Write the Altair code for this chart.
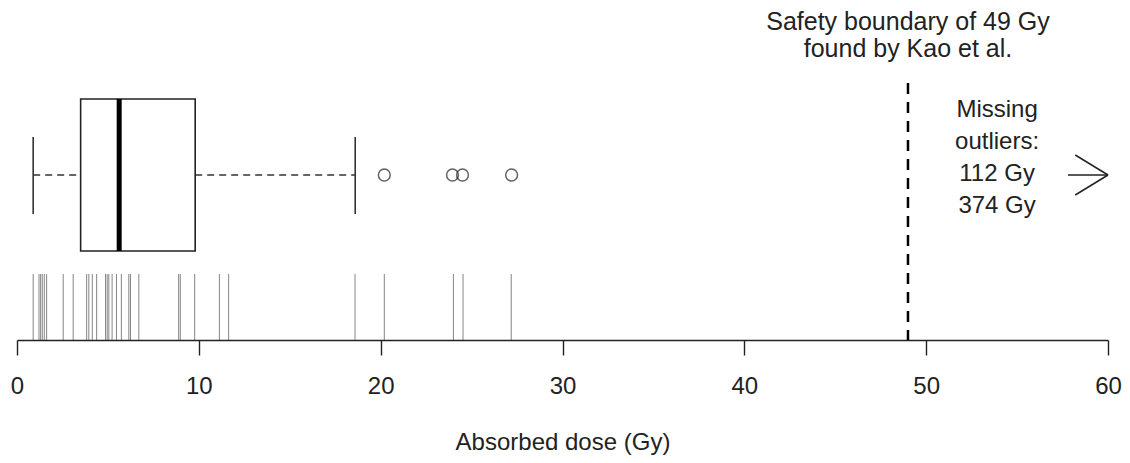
import altair as alt
import pandas as pd

# ---- data ----
doses = [0.89, 1.21, 1.30, 1.39, 1.50, 1.63, 2.54, 3.09, 3.83, 3.95, 4.14, 4.38,
         4.87, 4.96, 5.05, 5.23, 5.47, 5.74, 6.15, 6.24, 6.70, 8.89, 8.98, 9.77,
         11.13, 11.64, 18.59, 20.20, 24.00, 24.53, 27.18]
outliers = [20.20, 23.95, 24.50, 27.20]
box_q1 = 3.50
box_median = 5.62
box_q3 = 9.80
whisker_low = 0.89
whisker_high = 18.60
boundary_gy = 49
boundary_text = ["Safety boundary of 49 Gy", "found by Kao et al."]
missing_text = ["Missing", "outliers:", "112 Gy", "374 Gy"]
x_ticks = [0, 10, 20, 30, 40, 50, 60]

FONT = "Liberation Sans"
XTITLE = "Absorbed dose (Gy)"
xscale = alt.Scale(domain=[0, 60], nice=False, zero=False)


def X(field, **kw):
    return alt.X(field, type="quantitative", scale=xscale,
                 axis=alt.Axis(title=XTITLE, values=x_ticks), **kw)


rug_df = pd.DataFrame({"dose": doses})
box_df = pd.DataFrame({"q1": [box_q1], "q3": [box_q3], "med": [box_median],
                       "lo": [whisker_low], "hi": [whisker_high]})
out_df = pd.DataFrame({"dose": outliers})
whisk_df = pd.DataFrame({"a": [whisker_low, box_q3], "b": [box_q1, whisker_high]})
cap_df = pd.DataFrame({"v": [whisker_low, whisker_high]})
bnd_df = pd.DataFrame({"v": [boundary_gy]})
btxt_df = pd.DataFrame({"t": boundary_text, "v": [boundary_gy] * 2,
                        "yp": [14 + 27 * i for i in range(len(boundary_text))]})
mtxt_df = pd.DataFrame({"t": missing_text, "v": [53.9] * 4,
                        "yp": [102 + 32 * i for i in range(len(missing_text))]})

rug = alt.Chart(rug_df).mark_rule(color="#333333", opacity=0.6, strokeWidth=1).encode(
    x=X("dose"), y=alt.value(266), y2=alt.value(332))

whisk = alt.Chart(whisk_df).mark_rule(color="#333333", strokeWidth=1.6, strokeDash=[7, 5]).encode(
    x=X("a"), x2="b", y=alt.value(167))

caps = alt.Chart(cap_df).mark_rule(color="#333333", strokeWidth=1.6).encode(
    x=X("v"), y=alt.value(129), y2=alt.value(206))

box = alt.Chart(box_df).mark_rect(fill="white", stroke="#222222", strokeWidth=1.6).encode(
    x=X("q1"), x2="q3", y=alt.value(91), y2=alt.value(243))

med = alt.Chart(box_df).mark_rule(color="black", strokeWidth=5).encode(
    x=X("med"), y=alt.value(91), y2=alt.value(243))

outs = alt.Chart(out_df).mark_point(shape="circle", size=140, filled=False,
                                    color="#222222", strokeWidth=1.5).encode(
    x=X("dose"), y=alt.value(167))

bnd = alt.Chart(bnd_df).mark_rule(color="black", strokeWidth=2.5, strokeDash=[11, 8]).encode(
    x=X("v"), y=alt.value(75), y2=alt.value(332))

btxt = alt.Chart(btxt_df).mark_text(font=FONT, fontSize=25, color="#222222",
                                    baseline="middle", align="center").encode(
    x=X("v"), y=alt.Y("yp:Q", scale=None), text="t:N")

mtxt = alt.Chart(mtxt_df).mark_text(font=FONT, fontSize=24, color="#222222",
                                    baseline="middle", align="center").encode(
    x=X("v"), y=alt.Y("yp:Q", scale=None), text="t:N")

arrow_df = pd.DataFrame({"x0": [57.8], "x1": [60.0]})
arrow = alt.Chart(arrow_df).mark_rule(color="#222222", strokeWidth=1.5).encode(
    x=X("x0"), x2="x1", y=alt.value(167))
head_df = pd.DataFrame({"x0": [58.2, 58.2], "x1": [60.0, 60.0]})
head_top = alt.Chart(head_df.iloc[[0]]).mark_rule(color="#222222", strokeWidth=1.5).encode(
    x=X("x0"), x2="x1", y=alt.value(147), y2=alt.value(167))
head_bot = alt.Chart(head_df.iloc[[1]]).mark_rule(color="#222222", strokeWidth=1.5).encode(
    x=X("x0"), x2="x1", y=alt.value(187), y2=alt.value(167))

chart = alt.layer(rug, whisk, caps, box, med, outs, bnd, btxt, mtxt, arrow, head_top, head_bot).properties(
    width=1091, height=332,
    autosize=alt.AutoSizeParams(type="none"),
    padding={"left": 9, "top": 0, "right": 14, "bottom": 119},
).configure_view(stroke=None).configure_axis(
    grid=False,
).configure_axisX(
    domainColor="#222222", domainWidth=1.4, tickColor="#222222", tickWidth=1.4,
    tickSize=15, labelFont=FONT, labelFontSize=24, labelColor="#222222",
    labelPadding=19, titleFont=FONT, titleFontSize=24, titleFontWeight="normal",
    titleColor="#222222", titlePadding=32, labelFlush=False,
).configure_axisY(disable=True)

chart.save("out.html", embed_options={"renderer": "svg", "actions": False})
